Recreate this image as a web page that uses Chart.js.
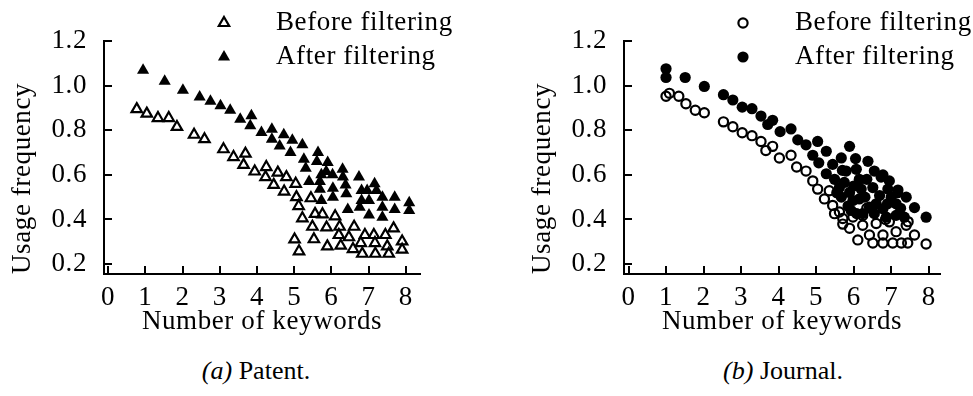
<!DOCTYPE html>
<html>
<head>
<meta charset="utf-8">
<script src="https://cdn.jsdelivr.net/npm/chart.js@4/dist/chart.umd.min.js"></script>
<style>
  body { margin: 0; background: #fff; }
  #wrap { position: relative; width: 973px; height: 396px; overflow: hidden; }
  .box { position: absolute; top: 0; }
  .cap { position: absolute; top: 356px; width: 220px; text-align: center; font: 26px 'Liberation Serif', 'Times New Roman', serif; line-height: 30px; color: #000; }
</style>
</head>
<body>
<div id="wrap">
  <div class="box" style="left:0"><canvas id="patentChart" width="480" height="345"></canvas></div>
  <div class="box" style="left:480px"><canvas id="journalChart" width="493" height="345"></canvas></div>
  <div class="cap" style="left:146px"><i>(a)</i> Patent.</div>
  <div class="cap" style="left:673px"><i>(b)</i> Journal.</div>
</div>
<script>
'use strict'

// tick values shared by both panels
const xTicks = [0, 1, 2, 3, 4, 5, 6, 7, 8];
const yTicks = [0.2, 0.4, 0.6, 0.8, 1.0, 1.2];

// (a) Patent
const patentBeforeX = [0.77, 1.04, 1.34, 1.63, 1.85, 2.31, 2.59, 3.10, 3.37, 3.69, 3.64, 3.94, 4.25, 4.23, 4.45, 4.56, 4.79, 4.73, 5.04, 5.06,
    5.12, 5.22, 5.01, 5.13, 5.45, 5.49, 5.56, 5.76, 5.87, 6.10, 5.53, 5.89, 6.22, 6.25, 6.20, 6.47, 6.61, 6.58, 6.83, 6.79,
    6.90, 7.14, 7.17, 7.18, 7.45, 7.50, 7.54, 7.67, 7.90, 7.90];
const patentBeforeY = [0.895, 0.875, 0.855, 0.855, 0.815, 0.78, 0.76, 0.715, 0.68, 0.695, 0.645, 0.615, 0.635, 0.59, 0.555, 0.61, 0.59, 0.525, 0.56, 0.50,
    0.46, 0.405, 0.31, 0.257, 0.495, 0.367, 0.425, 0.423, 0.364, 0.414, 0.311, 0.279, 0.367, 0.282, 0.33, 0.32, 0.367, 0.267, 0.246, 0.294,
    0.33, 0.33, 0.294, 0.246, 0.33, 0.279, 0.246, 0.36, 0.301, 0.264];
const patentAfterX = [0.94, 1.52, 2.01, 2.46, 2.75, 3.02, 3.28, 3.55, 3.85, 3.82, 4.12, 4.40, 4.40, 4.61, 4.72, 4.90, 4.95, 5.22, 5.26, 5.31,
    5.40, 5.64, 5.61, 5.90, 5.86, 5.73, 6.03, 6.30, 6.31, 5.69, 5.69, 6.04, 6.38, 6.40, 6.04, 5.73, 6.74, 6.81, 6.96, 7.16,
    7.21, 6.81, 6.76, 7.01, 7.01, 7.37, 7.37, 7.37, 7.70, 7.70, 8.09, 8.09, 6.44];
const patentAfterY = [1.07, 1.02, 0.98, 0.95, 0.93, 0.91, 0.89, 0.85, 0.865, 0.82, 0.79, 0.805, 0.76, 0.73, 0.78, 0.70, 0.755, 0.735, 0.67, 0.63,
    0.57, 0.70, 0.66, 0.655, 0.615, 0.60, 0.60, 0.625, 0.59, 0.57, 0.535, 0.54, 0.555, 0.515, 0.50, 0.485, 0.59, 0.53, 0.53, 0.56,
    0.53, 0.485, 0.455, 0.485, 0.42, 0.50, 0.455, 0.41, 0.50, 0.445, 0.475, 0.44, 0.445];

// (b) Journal
const journalBeforeX = [1.00, 1.09, 1.34, 1.53, 1.78, 2.02, 2.53, 2.78, 3.03, 3.29, 3.53, 3.66, 3.84, 4.02, 4.33, 4.48, 4.73, 4.91, 5.04, 5.22,
    5.35, 5.44, 5.49, 5.62, 5.71, 5.71, 5.89, 6.11, 5.98, 6.24, 6.42, 6.60, 6.51, 6.78, 6.78, 7.04, 6.95, 7.13, 7.27, 7.44,
    7.40, 7.62, 7.93, 6.24, 7.45, 6.85, 6.35];
const journalBeforeY = [0.953, 0.966, 0.953, 0.919, 0.89, 0.879, 0.838, 0.816, 0.789, 0.776, 0.75, 0.709, 0.728, 0.676, 0.688, 0.635, 0.617, 0.573, 0.536, 0.492,
    0.529, 0.463, 0.426, 0.433, 0.404, 0.379, 0.36, 0.308, 0.411, 0.374, 0.33, 0.382, 0.294, 0.33, 0.294, 0.294, 0.389, 0.345, 0.294, 0.294,
    0.374, 0.33, 0.29, 0.418, 0.39, 0.40, 0.45];
const journalAfterX = [1.00, 1.00, 1.51, 2.02, 2.53, 2.78, 3.03, 3.29, 3.53, 3.71, 3.84, 4.04, 4.33, 4.51, 4.73, 5.04, 4.91, 5.07, 5.27, 5.44,
    5.67, 5.89, 5.80, 6.05, 6.07, 6.38, 5.27, 5.49, 5.62, 5.75, 5.67, 5.89, 5.98, 6.15, 6.20, 6.15, 6.08, 6.55, 6.73, 6.95,
    6.51, 6.69, 6.91, 7.18, 7.40, 7.13, 6.42, 6.55, 6.78, 6.87, 7.13, 7.35, 7.62, 7.93, 6.24, 5.93, 6.78, 7.17, 6.30, 6.90,
    5.55, 5.85, 6.35, 6.60, 7.00, 7.25, 6.00, 5.70];
const journalAfterY = [1.076, 1.037, 1.037, 0.997, 0.96, 0.936, 0.904, 0.897, 0.864, 0.826, 0.845, 0.794, 0.806, 0.757, 0.735, 0.75, 0.688, 0.654, 0.706, 0.647,
    0.676, 0.728, 0.617, 0.673, 0.625, 0.661, 0.605, 0.58, 0.543, 0.566, 0.50, 0.521, 0.485, 0.58, 0.536, 0.492, 0.426, 0.617, 0.59, 0.573,
    0.543, 0.507, 0.536, 0.532, 0.50, 0.47, 0.455, 0.426, 0.448, 0.41, 0.418, 0.41, 0.453, 0.41, 0.426, 0.44, 0.60, 0.52, 0.50, 0.47,
    0.52, 0.46, 0.58, 0.47, 0.50, 0.45, 0.55, 0.62];

const serif = "'Liberation Serif', 'Times New Roman', serif";

function toPoints(xs, ys) {
    return xs.map((x, i) => ({ x: x, y: ys[i] }));
}

// the scanned figure uses a slightly wide serif, so open the letters up a little
const wideText = {
    id: 'wideText',
    beforeDraw(chart) {
        chart.ctx.letterSpacing = '0.6px';
    }
};

// legend drawn as two rows in the upper right, like the figure
const sideLegend = {
    id: 'sideLegend',
    afterDraw(chart, args, opts) {
        const ctx = chart.ctx;
        ctx.save();
        chart.data.datasets.forEach((ds, i) => {
            const y = opts.rows[i];
            ctx.fillStyle = ds.pointBackgroundColor;
            ctx.strokeStyle = ds.pointBorderColor;
            ctx.lineWidth = ds.pointBorderWidth;
            Chart.helpers.drawPoint(ctx, {
                pointStyle: ds.pointStyle,
                radius: ds.pointRadius,
                borderWidth: ds.pointBorderWidth,
                rotation: 0
            }, opts.markerX, y);
            ctx.fillStyle = '#000';
            ctx.font = '27px ' + serif;
            ctx.textAlign = 'left';
            ctx.textBaseline = 'middle';
            ctx.fillText(ds.label, opts.textX, y);
        });
        ctx.restore();
    }
};

function createGraph(chartId, before, after, shape, xMin, xMax, padLeft, padRight, legendX) {
    const hollowR = shape === 'triangle' ? 6 : 4.6;
    const solidR = shape === 'triangle' ? 7 : 5.6;
    const ctx = document.getElementById(chartId).getContext('2d');
    new Chart(ctx, {
        type: 'scatter',
        data: {
            datasets: [{
                label: 'Before filtering',
                data: before,
                pointStyle: shape,
                pointRadius: hollowR,
                pointBorderWidth: 2.2,
                pointBackgroundColor: 'rgba(255,255,255,0)',
                pointBorderColor: '#000',
                backgroundColor: 'rgba(255,255,255,0)',
                borderColor: '#000'
            }, {
                label: 'After filtering',
                data: after,
                pointStyle: shape,
                pointRadius: solidR,
                pointBorderWidth: 0,
                pointBackgroundColor: '#000',
                pointBorderColor: '#000',
                backgroundColor: '#000',
                borderColor: '#000'
            }]
        },
        options: {
            responsive: false,
            animation: false,
            layout: { padding: { left: padLeft, right: padRight, top: 39, bottom: 0 } },
            plugins: {
                legend: { display: false },
                tooltip: { enabled: false },
                sideLegend: { markerX: legendX, textX: legendX + 52, rows: [23, 57] }
            },
            scales: {
                x: {
                    type: 'linear',
                    min: xMin,
                    max: xMax,
                    afterBuildTicks: s => { s.ticks = xTicks.map(v => ({ value: v })); },
                    afterFit: s => { s.height = 71; },
                    border: { color: '#000', width: 2 },
                    grid: { drawOnChartArea: false, tickLength: -8, color: '#000', lineWidth: 2 },
                    ticks: { color: '#000', font: { family: serif, size: 27 }, padding: 16, maxRotation: 0, autoSkip: false },
                    title: { display: true, text: 'Number of keywords', color: '#000', font: { family: serif, size: 27 }, padding: { top: 0, bottom: 7 } }
                },
                y: {
                    type: 'linear',
                    min: 0.155,
                    max: 1.2,
                    afterBuildTicks: s => { s.ticks = yTicks.map(v => ({ value: v })); },
                    afterFit: s => { s.width = 104; },
                    border: { color: '#000', width: 2 },
                    grid: { drawOnChartArea: false, tickLength: -8, color: '#000', lineWidth: 2 },
                    ticks: { color: '#000', font: { family: serif, size: 27 }, padding: 25, callback: v => v.toFixed(1) },
                    title: { display: true, align: 'start', text: 'Usage frequency', color: '#000', font: { family: serif, size: 27 }, padding: { top: 7, bottom: 0 } }
                }
            }
        },
        plugins: [wideText, sideLegend]
    });
}

createGraph('patentChart', toPoints(patentBeforeX, patentBeforeY), toPoints(patentAfterX, patentAfterY),
    'triangle', -0.11, 8.38, 0, 60, 224);
createGraph('journalChart', toPoints(journalBeforeX, journalBeforeY), toPoints(journalAfterX, journalAfterY),
    'circle', -0.12, 8.3, 40, 33, 263);
</script>
</body>
</html>
